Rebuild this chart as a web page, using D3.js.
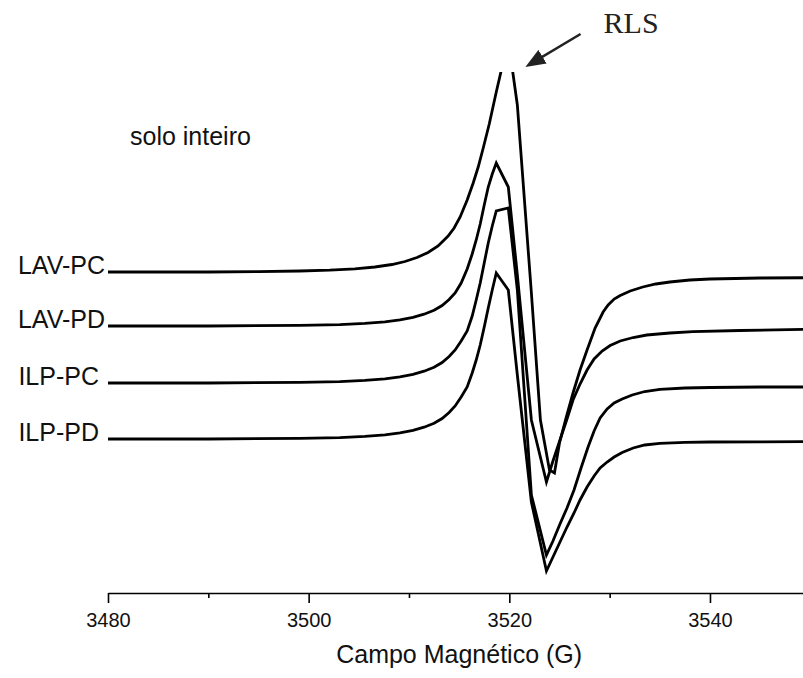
<!DOCTYPE html>
<html>
<head>
<meta charset="utf-8">
<script src="https://cdn.jsdelivr.net/npm/d3@7"></script>
<style>
  body { margin: 0; background: #fff; }
</style>
</head>
<body>
<div id="chart"></div>
<script>
// campo (G), intensidade (u.a.)
var series_names = ['LAV-PC', 'LAV-PD', 'ILP-PC', 'ILP-PD'];

var lav_pc = [
  [3480, 321], [3490, 321], [3495, 321.4], [3499.1, 322], [3502.1, 322.8], [3504.6, 324.2],
  [3506.6, 326], [3508.3, 328.5], [3509.6, 331.5], [3510.8, 335.5], [3511.9, 340.5],
  [3512.9, 347], [3513.9, 357], [3514.5, 365], [3515.1, 376], [3515.8, 393], [3516.4, 410],
  [3516.9, 426], [3517.4, 445], [3518, 469], [3518.7, 501], [3519.9, 553], [3520.8, 488],
  [3522.2, 300], [3523.1, 173], [3524, 123], [3524.5, 120], [3525, 150], [3525.65, 175],
  [3526.35, 200], [3527.05, 223], [3527.75, 243], [3528.55, 265], [3529.35, 281],
  [3529.85, 288], [3530.45, 294], [3531.05, 297.5], [3532.05, 302], [3533.3, 306],
  [3534.6, 309], [3536, 311], [3538, 313], [3540, 314], [3545, 315], [3550, 315.3]
];

var lav_pd = [
  [3480, 267], [3490, 267], [3499.1, 267.6], [3503.1, 268.4], [3505.6, 269.6], [3507.6, 271.2],
  [3509.1, 273.2], [3510.4, 275.7], [3511.5, 278.8], [3512.5, 282.7], [3513.3, 287.5],
  [3514, 293.5], [3514.6, 300], [3515.2, 310], [3515.8, 324], [3516.3, 339], [3516.7, 353],
  [3517.1, 369], [3517.5, 388], [3517.9, 406], [3518.3, 419], [3518.7, 430], [3519.9, 406],
  [3520.8, 318], [3522.2, 173], [3523.7, 111], [3524.35, 132], [3525.05, 153], [3525.75, 174],
  [3526.35, 193], [3527.05, 209], [3527.75, 223], [3528.45, 234], [3529.25, 242],
  [3530.05, 247.5], [3531.05, 252], [3532.35, 255.5], [3533.7, 258], [3536, 260],
  [3538.3, 261.3], [3543, 262.5], [3550, 263.7]
];

var ilp_pc = [
  [3480, 210], [3490, 210], [3499.1, 210.6], [3503.1, 211.4], [3505.6, 212.6], [3507.6, 214.2],
  [3509.1, 216.2], [3510.4, 218.7], [3511.5, 221.8], [3512.5, 225.7], [3513.3, 230.5],
  [3514, 236.5], [3514.6, 243], [3515.2, 252], [3515.8, 262], [3516.3, 277], [3516.7, 293],
  [3517.1, 310], [3517.5, 330], [3517.9, 350], [3518.3, 367], [3518.7, 382], [3519.9, 385],
  [3520.8, 303], [3522.2, 98], [3523.7, 38], [3524.35, 52], [3525.05, 69], [3525.75, 85],
  [3526.45, 103], [3527.15, 125], [3527.85, 146], [3528.45, 162], [3529.05, 175],
  [3529.75, 184], [3530.45, 190], [3531.25, 194], [3532.25, 198], [3533.5, 201.5],
  [3535, 203.7], [3537.5, 205], [3540, 205.5], [3545, 206], [3550, 206]
];

var ilp_pd = [
  [3480, 154], [3490, 154], [3499.1, 154.6], [3503.1, 155.4], [3505.6, 156.6], [3507.6, 158.2],
  [3509.1, 160.2], [3510.4, 162.7], [3511.5, 165.8], [3512.5, 169.7], [3513.3, 174.5],
  [3514, 180.5], [3514.6, 187], [3515.2, 196], [3515.8, 206], [3516.3, 220], [3516.7, 233],
  [3517.1, 248], [3517.5, 266], [3517.9, 285], [3518.3, 303], [3518.7, 320], [3519.9, 303],
  [3520.8, 218], [3522.2, 91], [3523.7, 22], [3524.35, 36], [3525.05, 51], [3525.75, 66],
  [3526.45, 80], [3527.05, 93], [3527.75, 106], [3528.45, 117], [3529.05, 125],
  [3529.75, 131], [3530.45, 136], [3531.25, 140.5], [3532.35, 145], [3533.5, 148],
  [3535, 149.7], [3537.5, 150.7], [3540, 151], [3545, 151.2], [3550, 151.3]
];

var major_ticks = [3480, 3500, 3520, 3540];
var minor_ticks = [3490, 3510, 3530, 3550];
var tick_labels = ['3480', '3500', '3520', '3540'];

var chart_width  = 803;
var chart_height = 678;
var font_sans = 'Liberation Sans, Arial, sans-serif';

var series = [lav_pc, lav_pd, ilp_pc, ilp_pd];
var label_gap = [3, 3, 9, 9];

var svg = d3.select('#chart')
  .append('svg')
  .attr('width', chart_width)
  .attr('height', chart_height);

var x_scale = d3.scaleLinear()
  .domain([3480, 3550])
  .range([108, 810.3]);

var y_scale = d3.scaleLinear()
  .domain([0, 521])
  .range([593, 72]);

svg.append('clipPath')
  .attr('id', 'plot-clip')
  .append('rect')
  .attr('x', x_scale(3480))
  .attr('y', y_scale(521))
  .attr('width', x_scale(3550) - x_scale(3480) + 2)
  .attr('height', y_scale(0) - y_scale(521));

var line = d3.line()
  .x(function(d){ return x_scale(d[0]); })
  .y(function(d){ return y_scale(d[1]); });

svg.append('g')
  .attr('clip-path', 'url(#plot-clip)')
  .selectAll('path')
  .data(series)
  .enter()
  .append('path')
  .attr('d', line)
  .attr('fill', 'none')
  .attr('stroke', '#000')
  .attr('stroke-width', 2.8);

// curve names at the left end of each baseline
svg.selectAll('text.name')
  .data(series)
  .enter()
  .append('text')
  .attr('class', 'name')
  .text(function(d, i){ return series_names[i]; })
  .attr('x', function(d, i){ return x_scale(d[0][0]) - label_gap[i]; })
  .attr('y', function(d){ return y_scale(d[0][1]) + 2; })
  .attr('text-anchor', 'end')
  .attr('font-family', font_sans)
  .attr('font-size', 25)
  .attr('fill', '#111');

// x axis
var x_axis = d3.axisBottom(x_scale)
  .tickValues(major_ticks)
  .tickSize(10)
  .tickSizeOuter(0)
  .tickPadding(10)
  .tickFormat(function(d, i){ return tick_labels[i]; });

var axis_g = svg.append('g')
  .attr('transform', 'translate(0,' + y_scale(0) + ')')
  .call(x_axis);

axis_g.select('.domain').attr('stroke', '#000').attr('stroke-width', 1.6);
axis_g.selectAll('.tick line').attr('stroke', '#000').attr('stroke-width', 1.6);
axis_g.selectAll('.tick text')
  .attr('font-family', font_sans)
  .attr('font-size', 20)
  .attr('fill', '#111');

var minor_g = svg.append('g')
  .attr('transform', 'translate(0,' + y_scale(0) + ')')
  .call(d3.axisBottom(x_scale).tickValues(minor_ticks).tickSize(5).tickFormat(''));
minor_g.select('.domain').remove();
minor_g.selectAll('.tick line').attr('stroke', '#000').attr('stroke-width', 1.6);

svg.append('text')
  .text('Campo Magnético (G)')
  .attr('x', x_scale(3515))
  .attr('y', 663)
  .attr('text-anchor', 'middle')
  .attr('font-family', font_sans)
  .attr('font-size', 25)
  .attr('fill', '#111');

svg.append('text')
  .text('solo inteiro')
  .attr('x', 130)
  .attr('y', 145)
  .attr('font-family', font_sans)
  .attr('font-size', 25)
  .attr('fill', '#111');

// RLS annotation
svg.append('defs')
  .append('marker')
  .attr('id', 'arrow-head')
  .attr('markerUnits', 'userSpaceOnUse')
  .attr('viewBox', '0 0 20 16')
  .attr('markerWidth', 20)
  .attr('markerHeight', 16)
  .attr('refX', 14)
  .attr('refY', 8)
  .attr('orient', 'auto')
  .append('path')
  .attr('d', 'M0,0 L20,8 L0,16 Z')
  .attr('fill', '#222');

var tail = [x_scale(3527.1), y_scale(559)];
var tip = [x_scale(3521.6), y_scale(526)];
var len = Math.hypot(tip[0] - tail[0], tip[1] - tail[1]);
var end = [tip[0] - (tip[0] - tail[0]) / len * 6, tip[1] - (tip[1] - tail[1]) / len * 6];

svg.append('line')
  .attr('x1', tail[0])
  .attr('y1', tail[1])
  .attr('x2', end[0])
  .attr('y2', end[1])
  .attr('stroke', '#222')
  .attr('stroke-width', 2.5)
  .attr('marker-end', 'url(#arrow-head)');

svg.append('text')
  .text('RLS')
  .attr('x', x_scale(3529.4))
  .attr('y', 33)
  .attr('font-family', 'Liberation Serif, Times New Roman, serif')
  .attr('font-size', 30)
  .attr('fill', '#222');
</script>
</body>
</html>
